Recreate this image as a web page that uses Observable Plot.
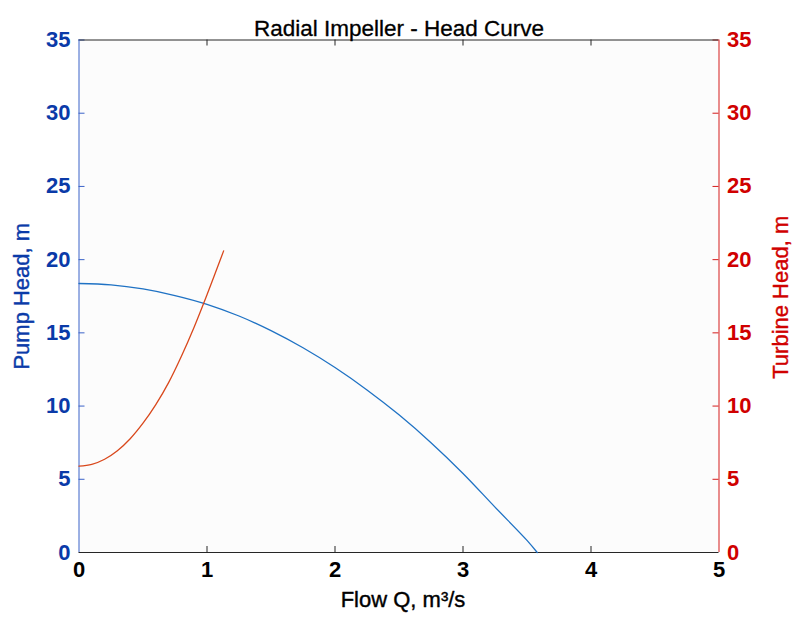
<!DOCTYPE html>
<html>
<head>
<meta charset="utf-8">
<script src="https://cdn.jsdelivr.net/npm/d3@7"></script>
<script src="https://cdn.jsdelivr.net/npm/@observablehq/plot@0.6"></script>
<style>
  html, body { margin: 0; padding: 0; background: #ffffff; }
  #chart { width: 795px; height: 622px; }
</style>
</head>
<body>
<div id="chart"></div>
<script>
const titleText = "Radial Impeller - Head Curve";
const xLabel = "Flow Q, m³/s";
const leftLabel = "Pump Head, m";
const rightLabel = "Turbine Head, m";

const flowTicks = [0, 1, 2, 3, 4, 5];
const headTicks = [0, 5, 10, 15, 20, 25, 30, 35];

const pumpQ = [0, 0.25, 0.5, 0.75, 1.0, 1.25, 1.5, 1.75, 2.0, 2.25, 2.5, 2.75, 3.0, 3.25, 3.5, 3.58];
const pumpH = [18.37, 18.28, 18.0, 17.55, 16.95, 16.15, 15.15, 13.98, 12.63, 11.1, 9.4, 7.5, 5.4, 3.1, 0.83, 0];

const turbQ = [0, 0.1, 0.2, 0.3, 0.4, 0.5, 0.6, 0.7, 0.8, 0.9, 1.0, 1.13];
const turbH = [5.9, 6.02, 6.37, 6.95, 7.77, 8.83, 10.1, 11.6, 13.4, 15.4, 17.6, 20.6];

const pump = pumpQ.map((q, i) => ({q, h: pumpH[i]}));
const turb = turbQ.map((q, i) => ({q, h: turbH[i]}));

const W = 795, H = 622;
const mL = 78.5, mR = 76.5, mT = 39.5, mB = 70;
const pw = W - mL - mR, ph = H - mT - mB;
const tk = 6;

const blueText = "#0a3aa8";
const blueAxis = "#3a62c8";
const redText = "#d00000";
const redAxis = "#d41c1c";
const black = "#262626";
const font = "'Liberation Sans', Arial, sans-serif";

const chart = Plot.plot({
  width: W,
  height: H,
  marginLeft: mL,
  marginRight: mR,
  marginTop: mT,
  marginBottom: mB,
  style: {fontFamily: font, background: "#ffffff", overflow: "visible"},
  x: {domain: [0, 5], axis: null},
  y: {domain: [0, 35], axis: null},
  marks: [
    Plot.frame({fill: "#fcfcfc", stroke: null}),
    // x tick marks (bottom, pointing up) and top (pointing down)
    Plot.ruleX(flowTicks.slice(1, -1), {x: d => d, insetTop: ph - tk, stroke: black}),
    Plot.ruleX(flowTicks.slice(1, -1), {x: d => d, insetBottom: ph - tk, stroke: black}),
    // y tick marks left / right (pointing inward)
    Plot.ruleY(headTicks.slice(1), {y: d => d, insetRight: pw - tk, stroke: blueAxis}),
    Plot.ruleY(headTicks.slice(1), {y: d => d, insetLeft: pw - tk, stroke: redAxis}),
    // borders
    Plot.ruleY([0], {stroke: black}),
    Plot.ruleY([35], {stroke: black}),
    Plot.ruleX([0], {stroke: blueAxis}),
    Plot.ruleX([5], {stroke: redAxis}),
    // curves
    Plot.line(pump, {x: "q", y: "h", stroke: "#1f72c4", strokeWidth: 1.3, curve: "catmull-rom"}),
    Plot.line(turb, {x: "q", y: "h", stroke: "#d9481c", strokeWidth: 1.3, curve: "catmull-rom"}),
    // tick labels
    Plot.text(flowTicks, {x: d => d, frameAnchor: "bottom", dy: 24.5, text: d => String(d), textAnchor: "middle", fontSize: 22, fontWeight: "bold", fill: "#000"}),
    Plot.text(headTicks, {y: d => d, frameAnchor: "left", dx: -8.5, text: d => String(d), textAnchor: "end", fontSize: 22, fontWeight: "bold", fill: blueText}),
    Plot.text(headTicks, {y: d => d, frameAnchor: "right", dx: 8, text: d => String(d), textAnchor: "start", fontSize: 22, fontWeight: "bold", fill: redText}),
    // texts
    Plot.text([titleText], {frameAnchor: "top", dy: -20, textAnchor: "middle", fontSize: 22.5, fill: "#000", stroke: "#000", strokeWidth: 0.3}),
    Plot.text([xLabel], {frameAnchor: "bottom", dy: 54.7, dx: 4, textAnchor: "middle", fontSize: 22, fill: "#000", stroke: "#000", strokeWidth: 0.4}),
    Plot.text([leftLabel], {frameAnchor: "left", dx: -57.5, rotate: -90, textAnchor: "middle", fontSize: 22, fill: blueText, stroke: blueText, strokeWidth: 0.4}),
    Plot.text([rightLabel], {frameAnchor: "right", dx: 61.5, dy: 1, rotate: -90, textAnchor: "middle", fontSize: 22, fill: redText, stroke: redText, strokeWidth: 0.4})
  ]
});
document.getElementById("chart").appendChild(chart);
</script>
</body>
</html>
